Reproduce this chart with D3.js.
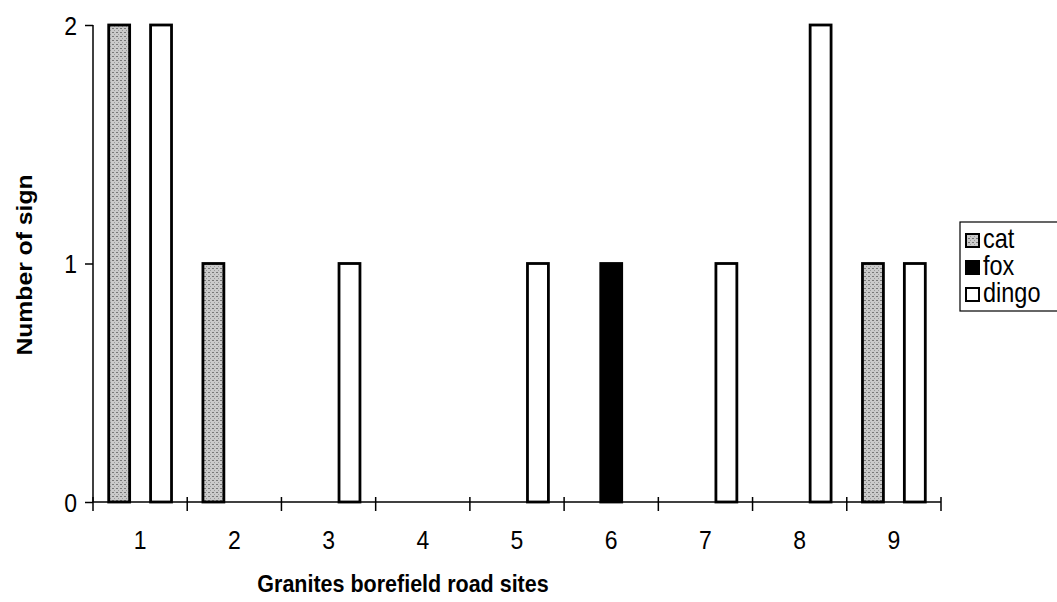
<!DOCTYPE html>
<html>
<head>
<meta charset="utf-8">
<script src="https://cdn.jsdelivr.net/npm/d3@7"></script>
<style>
  html, body { margin: 0; padding: 0; background: #fff; }
  svg { display: block; font-family: "Liberation Sans", Arial, sans-serif; }
</style>
</head>
<body>
<svg id="chart" width="1057" height="602"></svg>
<script>
const sites = ["1", "2", "3", "4", "5", "6", "7", "8", "9"];
const seriesNames = ["cat", "fox", "dingo"];
const catValues = [2, 1, 0, 0, 0, 0, 0, 0, 1];
const foxValues = [0, 0, 0, 0, 0, 1, 0, 0, 0];
const dingoValues = [2, 0, 1, 0, 1, 0, 1, 2, 1];
const yTicks = [0, 1, 2];
const xTitle = "Granites borefield road sites";
const yTitle = "Number of sign";

(function () {
const seriesValues = { cat: catValues, fox: foxValues, dingo: dingoValues };
const SY = 1.15; // vertical stretch of the scanned original

const svg = d3.select("#chart");
const defs = svg.append("defs");
const pat = defs.append("pattern").attr("id", "catPat")
  .attr("patternUnits", "userSpaceOnUse").attr("width", 4).attr("height", 4);
pat.append("rect").attr("width", 4).attr("height", 4).attr("fill", "#cacaca");
pat.append("rect").attr("x", 0).attr("y", 0).attr("width", 2).attr("height", 1).attr("fill", "#777");
pat.append("rect").attr("x", 2).attr("y", 2).attr("width", 1).attr("height", 1).attr("fill", "#999");

const fills = { cat: "url(#catPat)", fox: "#000", dingo: "#fff" };

const mLeft = 93, mRight = 941, mTop = 25, mBottom = 502;

const x = d3.scaleBand().domain(sites).range([mLeft, mRight]).paddingInner(0).paddingOuter(0);
const y = d3.scaleLinear().domain([0, 2]).range([mBottom, mTop]);
const groupW = x.bandwidth() * 3 / 4.5;
const xs = d3.scaleBand().domain(seriesNames).range([0, groupW]);
const off = (x.bandwidth() - groupW) / 2;

// bars
const rows = [];
sites.forEach((s, i) => seriesNames.forEach(n => {
  if (seriesValues[n][i] > 0) rows.push({ site: s, series: n, value: seriesValues[n][i] });
}));
svg.append("g").selectAll("rect").data(rows).join("rect")
  .attr("x", d => x(d.site) + off + xs(d.series))
  .attr("y", d => y(d.value))
  .attr("width", xs.bandwidth())
  .attr("height", d => y(0) - y(d.value))
  .attr("fill", d => fills[d.series])
  .attr("stroke", "#000")
  .attr("stroke-width", 2.8);

// y axis
const yAxis = d3.axisLeft(y).tickValues(yTicks).tickFormat(d3.format("d")).tickSize(8).tickPadding(16);
const gy = svg.append("g").attr("transform", `translate(${mLeft},0)`).call(yAxis);
gy.select(".domain").attr("stroke", "#000").attr("stroke-width", 1.5).attr("d", `M0,${mTop}V${mBottom}`);
gy.selectAll(".tick line").attr("stroke", "#000").attr("stroke-width", 1.5);
gy.selectAll(".tick text").attr("font-size", 23).attr("fill", "#000")
  .attr("x", null).attr("dy", null)
  .attr("transform", `translate(-16,9) scale(1,${SY})`);

// x axis
const xAxis = d3.axisBottom(x).tickSize(0).tickPadding(30);
const gx = svg.append("g").attr("transform", `translate(0,${mBottom})`).call(xAxis);
gx.select(".domain").attr("stroke", "#000").attr("stroke-width", 1.5).attr("d", `M${mLeft},0H${mRight}`);
gx.selectAll(".tick text").attr("font-size", 23).attr("fill", "#000")
  .attr("y", null).attr("dy", null)
  .attr("transform", `translate(0,47) scale(1,${SY})`);
const bounds = sites.map(s => x(s)).concat([x(sites[sites.length - 1]) + x.bandwidth()]);
gx.append("g").selectAll("line").data(bounds).join("line")
  .attr("x1", d => d).attr("x2", d => d).attr("y1", -5).attr("y2", 9)
  .attr("stroke", "#000").attr("stroke-width", 1.5);

// titles
svg.append("text").attr("transform", `translate(403,592) scale(1,${SY})`).attr("text-anchor", "middle")
  .attr("font-size", 21.5).attr("font-weight", "bold").text(xTitle);
svg.append("text").attr("transform", `translate(32,265) rotate(-90) scale(${SY},1)`).attr("text-anchor", "middle")
  .attr("font-size", 21.5).attr("font-weight", "bold").text(yTitle);

// legend
const lg = svg.append("g").attr("transform", "translate(960,222)");
lg.append("rect").attr("x", 0).attr("y", 0).attr("width", 110).attr("height", 89)
  .attr("fill", "#fff").attr("stroke", "#000").attr("stroke-width", 1.2);
seriesNames.forEach((n, i) => {
  const cy = 18 + i * 27;
  lg.append("rect").attr("x", 6).attr("y", cy - 6).attr("width", 13).attr("height", 13)
    .attr("fill", fills[n]).attr("stroke", "#000").attr("stroke-width", 2);
  lg.append("text").attr("transform", `translate(23,${cy + 8}) scale(1,${SY})`)
    .attr("font-size", 23.5).text(n);
});
})();
</script>
</body>
</html>
